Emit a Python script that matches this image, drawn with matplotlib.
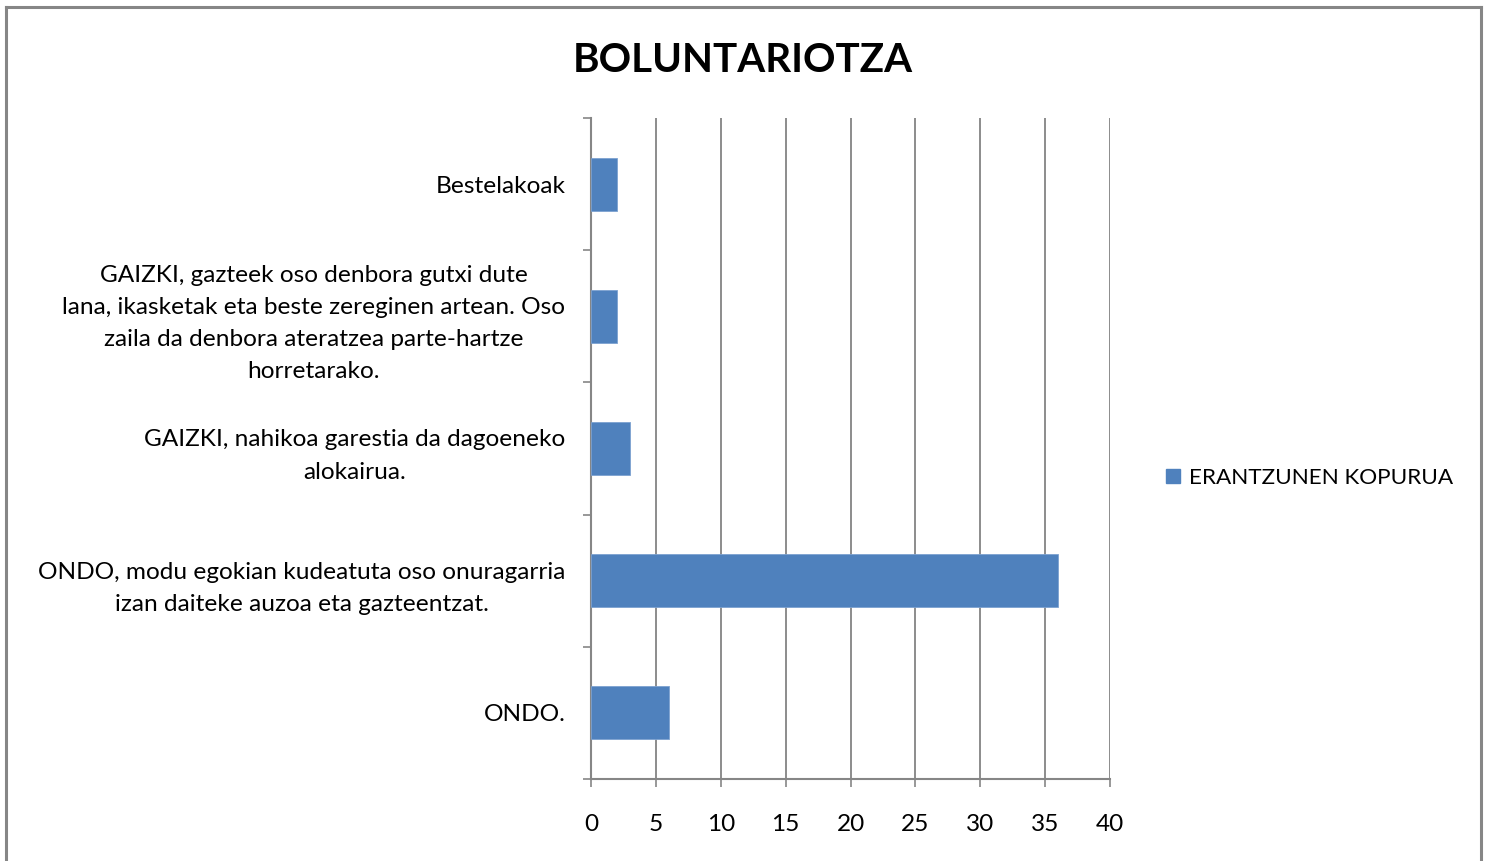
import matplotlib.pyplot as plt
from matplotlib.lines import Line2D
from matplotlib.patches import Patch
import numpy as np

plt.rcParams['font.family'] = ['Lato', 'DejaVu Sans']

# data (bottom to top)
categories = [
    'ONDO.',
    'ONDO, modu egokian kudeatuta oso onuragarria\nizan daiteke auzoa eta gazteentzat.',
    'GAIZKI, nahikoa garestia da dagoeneko\nalokairua.',
    'GAIZKI, gazteek oso denbora gutxi dute\nlana, ikasketak eta beste zereginen artean. Oso\nzaila da denbora ateratzea parte-hartze\nhorretarako.',
    'Bestelakoak',
]
values = [6, 36, 3, 2, 2]
series_name = 'ERANTZUNEN KOPURUA'
title = 'BOLUNTARIOTZA'

W, H = 1489, 861
fig = plt.figure(figsize=(W / 100, H / 100), dpi=100)

# frame around the chart (left, top, right only)
fc = '#868686'
fig.add_artist(Line2D([6 / W, 6 / W], [0, 1 - 7 / H], color=fc, lw=2.2, transform=fig.transFigure))
fig.add_artist(Line2D([6 / W, 1481 / W], [1 - 7 / H, 1 - 7 / H], color=fc, lw=2.2, transform=fig.transFigure))
fig.add_artist(Line2D([1481 / W, 1481 / W], [1 - 7 / H, 0], color=fc, lw=2.2, transform=fig.transFigure))

ax = fig.add_axes([591 / W, 1 - 779 / H, (1110 - 591) / W, (779 - 118) / H])

y = np.arange(len(categories))
ax.barh(y, values, height=0.4, color='#4F81BD', edgecolor='#7DA2D0', linewidth=0.6,
        label=series_name, zorder=3)

ax.set_xlim(0, 40)
ax.set_ylim(-0.5, len(categories) - 0.5)
ax.set_xticks(range(0, 41, 5))
ax.xaxis.grid(True, color='#8C8C8C', linewidth=1.4, zorder=0)
ax.set_axisbelow(True)

ax.set_yticks(y)
ax.set_yticklabels(categories, ha='right', multialignment='center', linespacing=1.65)
ax.set_yticks(np.arange(-0.5, len(categories), 1), minor=True)
ax.tick_params(axis='y', which='major', length=0, pad=18.5, labelsize=17.6)
ax.tick_params(axis='y', which='minor', length=6, width=1.2, color=fc)
ax.tick_params(axis='x', which='major', length=6, width=1.2, color=fc, pad=19, labelsize=17.6)

for s in ['top', 'right']:
    ax.spines[s].set_visible(False)
for s in ['left', 'bottom']:
    ax.spines[s].set_color(fc)
    ax.spines[s].set_linewidth(1.5)

fig.text(743 / W, 1 - 60 / H, title, ha='center', va='center', fontsize=29, fontweight='bold')

fig.legend(handles=[Patch(color='#4F81BD', label=series_name)], loc='center left',
           bbox_to_anchor=(1146 / W, 1 - 478 / H), frameon=False, fontsize=16.2,
           handlelength=0.6, handleheight=0.6, handletextpad=0.4)

fig.savefig('out.png', dpi=100, facecolor='white')
